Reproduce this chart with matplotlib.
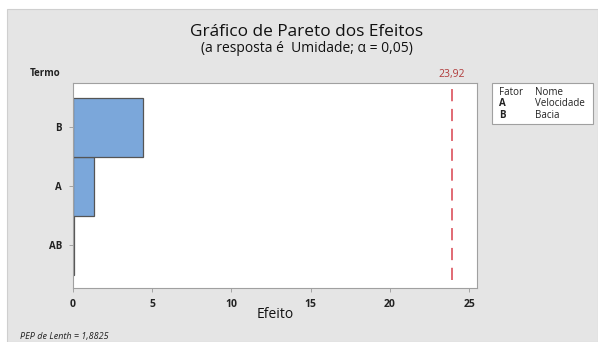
import numpy as np
import matplotlib.pyplot as plt
from matplotlib.patches import Rectangle

# Standardized effects (Pareto chart), largest on top
termos = ["AB", "A", "B"]
efeitos = [0.06, 1.33, 4.42]
limite = 23.92
pep_lenth = "1,8825"
fatores = ["A", "B"]
nomes = ["Velocidade", "Bacia"]
xticks = [0, 5, 10, 15, 20, 25]

W, H = 598, 342
plt.rcParams["font.family"] = ["Open Sans", "DejaVu Sans"]
fig = plt.figure(figsize=(W / 100, H / 100), dpi=100)
fig.patch.set_facecolor("white")

# grey panel behind everything
fig.patches.append(Rectangle((7 / W, 0), 1 - 7 / W, 1 - 9 / H, transform=fig.transFigure,
                             facecolor="#e5e5e5", edgecolor="#cfcfcf", lw=0.8, zorder=-5))

ax = fig.add_axes([73 / W, 1 - 288 / H, (477 - 73) / W, (288 - 83) / H])
ax.set_zorder(2)
ax.set_facecolor("white")
y = np.arange(len(termos))
ax.barh(y, efeitos, height=1.0, color="#7ba7da", edgecolor="#555555", linewidth=0.9, zorder=2)
ax.axvline(limite, ymin=0.04, color="#d9434e", lw=1.1, dashes=(8, 5), zorder=3)

ax.set_xlim(0, 25.5)
ax.set_ylim(-0.72, 2.75)
ax.set_xticks(xticks)
ax.set_xticklabels([str(t) for t in xticks], fontsize=7.5, fontweight="bold", color="#222222")
ax.set_yticks(y)
ax.set_yticklabels(termos, fontsize=7, fontweight="bold", color="#222222")
ax.tick_params(axis="both", length=3, width=0.6, color="#999999", pad=5)
for s in ax.spines.values():
    s.set_color("#a0a0a0")
    s.set_linewidth(0.8)

ax.set_xlabel("Efeito", fontsize=10, color="#111111", labelpad=-2)

fig.text(307 / W, 1 - 32 / H, "Gráfico de Pareto dos Efeitos", ha="center", va="center",
         fontsize=12.4, color="#111111")
fig.text(307 / W, 1 - 49 / H, "(a resposta é  Umidade; α = 0,05)", ha="center", va="center",
         fontsize=10, color="#111111")
fig.text(30 / W, 1 - 73 / H, "Termo", ha="left", va="center", fontsize=7,
         fontweight="bold", color="#222222")
ax.text(limite, 1.015, "23,92", transform=ax.get_xaxis_transform(), ha="center", va="bottom",
        fontsize=7.5, color="#b03a3a")
fig.text(20 / W, 1 - 337 / H, f"PEP de Lenth = {pep_lenth}", ha="left", va="center",
         fontsize=6.5, style="italic", color="#222222")

# factor key box
fig.patches.append(Rectangle((492 / W, 1 - 124 / H), 101 / W, 41 / H, transform=fig.transFigure,
                             facecolor="white", edgecolor="#a0a0a0", lw=0.8, zorder=1))
fig.text(499 / W, 1 - 93 / H, "Fator", fontsize=7, va="center", color="#222222")
fig.text(535 / W, 1 - 93 / H, "Nome", fontsize=7, va="center", color="#222222")
for i, (f, n) in enumerate(zip(fatores, nomes)):
    yy = 1 - (104 + 12 * i) / H
    fig.text(499 / W, yy, f, fontsize=7, va="center", fontweight="bold", color="#222222")
    fig.text(535 / W, yy, n, fontsize=7, va="center", color="#222222")

fig.savefig("out.png", dpi=100)
